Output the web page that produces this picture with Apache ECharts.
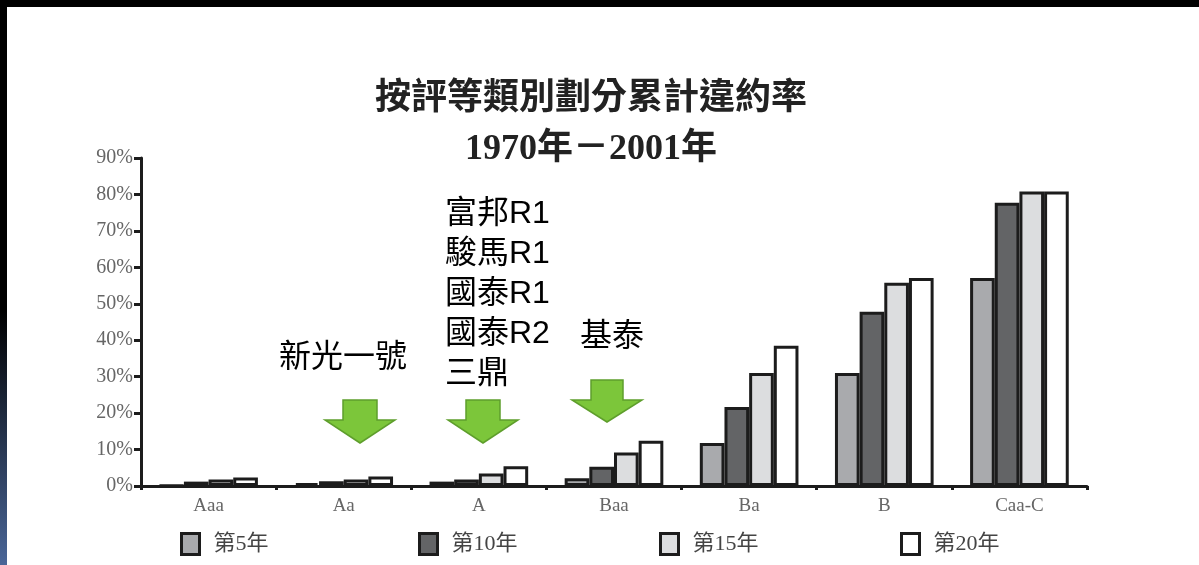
<!DOCTYPE html>
<html>
<head>
<meta charset="utf-8">
<script src="https://cdn.jsdelivr.net/npm/echarts@6/dist/echarts.min.js"></script>
<style>
html,body{margin:0;padding:0;background:#fff;}
#chart{width:1199px;height:565px;}
</style>
</head>
<body>
<div id="chart"></div>
<script>
// ---- data ----
var categories = ['Aaa', 'Aa', 'A', 'Baa', 'Ba', 'B', 'Caa-C'];
var seriesNames = ['第5年', '第10年', '第15年', '第20年'];
var year5  = [0.1, 0.8, 1.2, 2.1, 11.8, 31.0, 57.1];
var year10 = [1.2, 1.3, 1.8, 5.3, 21.7, 47.8, 77.7];
var year15 = [1.8, 1.8, 3.4, 9.2, 31.0, 55.8, 80.8];
var year20 = [2.3, 2.6, 5.4, 12.4, 38.5, 57.1, 80.8];
var yTicks = [0, 10, 20, 30, 40, 50, 60, 70, 80, 90];
var titleLines = ['按評等類別劃分累計違約率', '1970年－2001年'];
var noteA = ['新光一號'];
var noteB = ['富邦R1', '駿馬R1', '國泰R1', '國泰R2', '三鼎'];
var noteC = ['基泰'];

var colors = ['#a9aaad', '#636466', '#dcdddf', '#ffffff'];
var values = [year5, year10, year15, year20];
var serif = "'Liberation Serif', 'Noto Sans CJK TC', serif";
var sans = "'Liberation Sans', 'Noto Sans CJK TC', sans-serif";

var series = seriesNames.map(function (n, i) {
  return {
    name: n,
    type: 'bar',
    data: values[i],
    barGap: '0%',
    barCategoryGap: '27%',
    itemStyle: { color: colors[i], borderColor: '#1c1c1c', borderWidth: 3 }
  };
});

var legendLefts = [180, 418, 659, 900];
var legends = seriesNames.map(function (n, i) {
  return {
    data: [n],
    left: legendLefts[i],
    top: 532,
    padding: 0,
    itemWidth: 18,
    itemHeight: 21,
    icon: 'rect',
    selectedMode: false,
    itemStyle: { color: colors[i], borderColor: '#1c1c1c', borderWidth: 3 },
    textStyle: { fontFamily: serif, fontSize: 22, color: '#444', padding: [0, 0, 0, 9] }
  };
});

function arrow(cx, top, shaftH, headH, shaftW, headW) {
  var sw = shaftW / 2, hw = headW / 2;
  return {
    type: 'polygon',
    z: 100,
    shape: { points: [
      [cx - sw, top], [cx + sw, top], [cx + sw, top + shaftH], [cx + hw, top + shaftH],
      [cx, top + shaftH + headH], [cx - hw, top + shaftH], [cx - sw, top + shaftH]
    ] },
    style: { fill: '#7cc63a', stroke: '#5e9e2c', lineWidth: 1.5 }
  };
}

var option = {
  backgroundColor: '#ffffff',
  animation: false,
  title: {
    text: titleLines.join('\n'),
    left: 586,
    top: 70,
    textAlign: 'center',
    textStyle: { fontFamily: serif, fontWeight: 'bold', fontSize: 36, lineHeight: 50, color: '#222' }
  },
  legend: legends,
  grid: { left: 141, right: 112, top: 158, bottom: 79, containLabel: false },
  xAxis: {
    type: 'category',
    data: categories,
    axisLine: { lineStyle: { color: '#1c1c1c', width: 3 } },
    axisTick: { show: true, length: 4, lineStyle: { color: '#1c1c1c', width: 3 } },
    axisLabel: { fontFamily: serif, fontSize: 19, color: '#666', margin: 11 }
  },
  yAxis: {
    type: 'value',
    min: 0,
    max: 90,
    interval: 10,
    splitLine: { show: false },
    axisLine: { show: true, lineStyle: { color: '#1c1c1c', width: 3 } },
    axisTick: { show: true, length: 7, lineStyle: { color: '#1c1c1c', width: 3 } },
    axisLabel: {
      fontFamily: serif, fontSize: 20, color: '#666', margin: 8,
      formatter: function (v) { return yTicks.indexOf(v) >= 0 ? v + '%' : ''; }
    }
  },
  series: series,
  graphic: [
    { type: 'rect', z: 200, shape: { x: 0, y: 0, width: 1199, height: 7 }, style: { fill: '#000' } },
    { type: 'rect', z: 200, shape: { x: 0, y: 0, width: 7, height: 565 },
      style: { fill: new echarts.graphic.LinearGradient(0, 0, 0, 1, [
        { offset: 0, color: '#000' }, { offset: 0.55, color: '#000' }, { offset: 1, color: '#4a6698' }]) } },
    { type: 'text', z: 100, left: 279, top: 338,
      style: { text: noteA.join('\n'), fontFamily: sans, fontSize: 32, lineHeight: 40, fill: '#000' } },
    { type: 'text', z: 100, left: 445, top: 194,
      style: { text: noteB.join('\n'), fontFamily: sans, fontSize: 32, lineHeight: 40, fill: '#000' } },
    { type: 'text', z: 100, left: 580, top: 317,
      style: { text: noteC.join('\n'), fontFamily: sans, fontSize: 32, lineHeight: 40, fill: '#000' } },
    arrow(360, 400, 20, 23, 34, 70),
    arrow(483, 400, 20, 23, 34, 70),
    arrow(607, 380, 20, 22, 32, 70)
  ]
};

var chart = echarts.init(document.getElementById('chart'));
chart.setOption(option);
</script>
</body>
</html>
